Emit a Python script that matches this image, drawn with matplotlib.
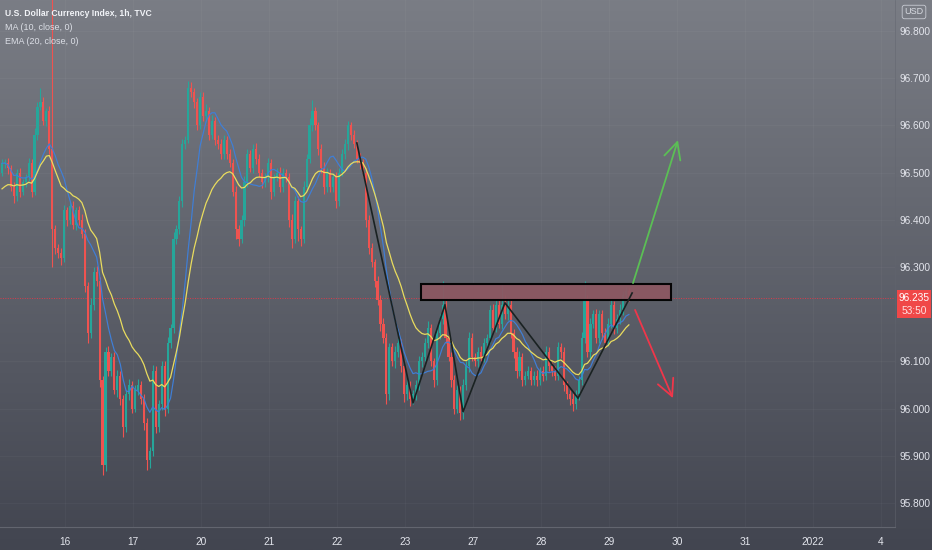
import matplotlib
matplotlib.use('Agg')
import matplotlib.pyplot as plt
import numpy as np
import pandas as pd
from matplotlib.patches import Rectangle
from matplotlib.lines import Line2D

plt.rcParams['font.family'] = ['Liberation Sans Narrow', 'Liberation Sans', 'DejaVu Sans']

# ---------------- data ----------------
first_open = 96.50
closes = [
    96.52, 96.52, 96.51, 96.47, 96.45, 96.50, 96.46, 96.48, 96.49, 96.52,
    96.46, 96.58, 96.64, 96.65, 96.61, 96.63, 96.55, 96.38, 96.34, 96.33,
    96.32, 96.42, 96.40, 96.43, 96.39, 96.42, 96.40, 96.37, 96.26, 96.16,
    96.22, 96.29, 96.27, 96.06, 95.88, 96.12, 96.08, 96.11, 96.04, 96.07,
    96.02, 95.96, 96.03, 96.05, 96.00, 96.04, 96.05, 96.02, 95.97, 95.89,
    95.91, 96.08, 95.96, 96.01, 96.09, 96.00, 96.14, 96.17, 96.36, 96.38,
    96.44, 96.56, 96.57, 96.68, 96.67, 96.65, 96.60, 96.66, 96.62, 96.63,
    96.58, 96.61, 96.57, 96.56, 96.54, 96.57, 96.54, 96.52, 96.46, 96.38,
    96.36, 96.40, 96.48, 96.54, 96.51, 96.55, 96.53, 96.50, 96.48, 96.49,
    96.52, 96.46, 96.49, 96.50, 96.47, 96.50, 96.49, 96.40, 96.36, 96.44,
    96.38, 96.36, 96.47, 96.53, 96.60, 96.63, 96.60, 96.55, 96.51, 96.47,
    96.50, 96.47, 96.49, 96.44, 96.50, 96.54, 96.56, 96.60, 96.58, 96.56,
    96.53, 96.52, 96.50, 96.40, 96.34, 96.31, 96.27, 96.23, 96.18, 96.15,
    96.03, 96.13, 96.10, 96.12, 96.14, 96.09, 96.03, 96.05, 96.02, 96.03,
    96.05, 96.10, 96.11, 96.14, 96.17, 96.10, 96.06, 96.16, 96.19, 96.22,
    96.15, 96.11, 96.06, 96.00, 96.04, 95.99, 96.05, 96.09, 96.15, 96.11,
    96.10, 96.12, 96.11, 96.14, 96.15, 96.21, 96.17, 96.22, 96.18, 96.22,
    96.20, 96.22, 96.16, 96.12, 96.08, 96.11, 96.06, 96.07, 96.08, 96.06,
    96.07, 96.06, 96.08, 96.07, 96.12, 96.09, 96.08, 96.07, 96.13, 96.12,
    96.05, 96.03, 96.02, 96.01, 96.03, 96.06, 96.15, 96.23, 96.12, 96.18,
    96.20, 96.15, 96.20, 96.16, 96.14, 96.18, 96.22, 96.17, 96.19, 96.21,
    96.24, 96.25, 96.235,
]
# upper / lower wick lengths in thousandths of a point
wick_up = [
    10, 8, 12, 6, 10, 8, 10, 6, 8, 12,
    8, 15, 10, 30, 10, 8, 12, 330, 10, 8,
    10, 12, 8, 10, 10, 8, 10, 12, 10, 8,
    15, 10, 12, 8, 10, 10, 12, 8, 10, 12,
    10, 8, 10, 12, 8, 10, 12, 8, 10, 10,
    8, 12, 10, 8, 10, 10, 12, 10, 15, 10,
    10, 12, 8, 15, 12, 10, 8, 12, 10, 15,
    10, 12, 8, 10, 12, 10, 8, 10, 10, 12,
    10, 10, 12, 10, 8, 10, 12, 10, 8, 10,
    12, 10, 8, 10, 12, 10, 8, 10, 12, 10,
    10, 8, 12, 10, 15, 25, 10, 8, 10, 12,
    10, 8, 10, 12, 10, 10, 12, 10, 8, 10,
    10, 12, 8, 10, 10, 12, 8, 10, 10, 12,
    10, 8, 10, 12, 10, 8, 10, 12, 8, 10,
    10, 12, 10, 10, 15, 10, 8, 12, 10, 50,
    10, 8, 10, 12, 10, 8, 12, 10, 12, 10,
    8, 10, 12, 10, 8, 10, 12, 10, 10, 45,
    20, 12, 10, 8, 10, 12, 8, 10, 10, 8,
    10, 12, 8, 10, 12, 10, 8, 10, 12, 10,
    10, 8, 10, 12, 10, 10, 12, 40, 10, 12,
    10, 12, 10, 8, 10, 12, 10, 8, 10, 12,
    10, 8, 5,
]
wick_dn = [
    8, 10, 12, 8, 15, 10, 12, 8, 10, 8,
    12, 8, 10, 8, 10, 12, 10, 80, 12, 10,
    15, 10, 12, 8, 10, 12, 10, 8, 12, 20,
    10, 12, 10, 15, 20, 12, 10, 12, 10, 15,
    12, 20, 10, 12, 10, 8, 12, 10, 15, 20,
    15, 10, 12, 10, 12, 15, 10, 12, 10, 12,
    10, 12, 10, 8, 10, 12, 10, 8, 10, 12,
    10, 8, 12, 10, 10, 12, 10, 8, 10, 20,
    15, 10, 12, 10, 8, 10, 12, 10, 12, 10,
    10, 15, 10, 8, 12, 10, 10, 15, 20, 10,
    25, 15, 10, 8, 10, 12, 10, 12, 10, 15,
    10, 12, 10, 15, 10, 8, 10, 12, 10, 8,
    10, 12, 10, 15, 12, 10, 12, 10, 15, 12,
    20, 12, 10, 15, 10, 12, 15, 12, 15, 10,
    12, 10, 12, 10, 12, 10, 15, 10, 12, 10,
    12, 10, 15, 12, 10, 15, 12, 10, 12, 10,
    10, 12, 10, 12, 10, 12, 10, 8, 10, 12,
    10, 12, 10, 12, 15, 10, 12, 10, 8, 10,
    10, 12, 10, 12, 10, 10, 12, 10, 10, 12,
    12, 10, 12, 15, 10, 12, 10, 12, 10, 12,
    10, 12, 10, 12, 10, 8, 10, 12, 10, 10,
    12, 10, 8,
]
ema_start = 96.46          # EMA level at the left edge of the chart
last_price = 96.235
countdown = "53:50"
price_ticks = [96.8, 96.7, 96.6, 96.5, 96.4, 96.3, 96.1, 96.0, 95.9, 95.8]
date_labels = ["16", "17", "20", "21", "22", "23", "27", "28", "29", "30", "31", "2022", "4"]
bars_per_day = 23
first_day_bar = 21.3

# drawings (bar index, price)
zone_x = (141.7, 226.2)
zone_y = (96.230, 96.264)
zig_x = [120.0, 139.0, 149.8, 155.9, 170.1, 194.8, 213.1]
zig_y = [96.563, 96.012, 96.22, 95.993, 96.224, 96.022, 96.245]
up_arrow = ((213.4, 96.266), (228.6, 96.569))
down_arrow = ((214.1, 96.209), (226.9, 96.022))

# ---------------- figure ----------------
W, H = 932, 550
fig = plt.figure(figsize=(W / 100, H / 100), dpi=100)

bg = fig.add_axes([0, 0, 1, 1], zorder=-10)
top = np.array([122, 125, 133]) / 255
bot = np.array([66, 69, 80]) / 255
t = np.linspace(0, 1, 256)[:, None]
grad = top * (1 - t) + bot * t
bg.imshow(grad[:, None, :], aspect='auto', extent=[0, 1, 0, 1], origin='upper')
bg.axis('off')

ax = fig.add_axes([0, 23 / H, 895 / W, 527 / H])
ax.patch.set_alpha(0)
for s in ax.spines.values():
    s.set_visible(False)

n = len(closes)
x = np.arange(n)
c = np.array(closes)
o = np.array([first_open] + closes[:-1])
hi = np.maximum(o, c) + np.array(wick_up) / 1000
lo = np.minimum(o, c) - np.array(wick_dn) / 1000
up = c >= o
col = np.where(up, '#26a69a', '#ef5350')

ax.vlines(x, lo, hi, colors=col, lw=0.8, zorder=3)
ax.bar(x, np.maximum(np.abs(c - o), 0.003), bottom=np.minimum(o, c), width=0.72,
       color=col, linewidth=0, zorder=3)

s = pd.Series(closes)
ma = s.rolling(10, min_periods=1).mean()
alpha = 2 / 21
ema = []
e = ema_start
for v in closes:
    e = e + alpha * (v - e)
    ema.append(e)
ax.plot(x, ma, color='#3f7fd8', lw=0.85, zorder=4)
ax.plot(x, ema, color='#e9dc5e', lw=0.9, zorder=4)

ax.axhline(last_price, color='#f23645', lw=0.7, ls=(0, (1, 1.5)), alpha=0.85, zorder=2)

ax.add_patch(Rectangle((zone_x[0], zone_y[0]), zone_x[1] - zone_x[0], zone_y[1] - zone_y[0],
                       facecolor='#8c5862', edgecolor='black', lw=1.5, alpha=0.95, zorder=5))
ax.plot(zig_x, zig_y, color='#1a2222', lw=1.2, zorder=6)

ax.annotate('', xy=up_arrow[1], xytext=up_arrow[0],
            arrowprops=dict(arrowstyle='->,head_length=1.2,head_width=0.6', color='#5bbf55',
                            lw=1.3, shrinkA=0, shrinkB=0, mutation_scale=10), zorder=7)
ax.annotate('', xy=down_arrow[1], xytext=down_arrow[0],
            arrowprops=dict(arrowstyle='->,head_length=1.2,head_width=0.6', color='#f0364a',
                            lw=1.3, shrinkA=0, shrinkB=0, mutation_scale=10), zorder=7)

ax.set_xlim(-0.68, 302.0)
ax.set_ylim(95.749, 96.866)

ax.yaxis.tick_right()
ax.set_yticks(price_ticks)
ax.set_yticklabels([f"{p:.3f}" for p in price_ticks])
ax.tick_params(axis='y', length=0, pad=3, labelsize=7.3, labelcolor='#e3e5ec')
xt = [first_day_bar + bars_per_day * k for k in range(len(date_labels))]
ax.set_xticks(xt)
ax.set_xticklabels(date_labels)
ax.tick_params(axis='x', length=0, pad=7, labelsize=7.3, labelcolor='#e3e5ec')
ax.grid(True, color='white', alpha=0.03, lw=0.8)

# separators
fig.add_artist(Line2D([0, 895 / W], [23 / H, 23 / H], transform=fig.transFigure, color='#62656f', lw=0.8))
fig.add_artist(Line2D([895 / W, 895 / W], [23 / H, 1], transform=fig.transFigure, color='#62656f', lw=0.5, alpha=0.7))

# last price label
fig.add_artist(Rectangle((897 / W, 1 - 318 / H), 34 / W, 28 / H, transform=fig.transFigure,
                         facecolor='#f04848', edgecolor='none', zorder=5))
fig.text(914 / W, 1 - 298 / H, f"{last_price:.3f}", fontsize=7.3, color='white',
         ha='center', va='center', zorder=6)
fig.text(914 / W, 1 - 311 / H, countdown, fontsize=7.3, color='#ffe2e2',
         ha='center', va='center', zorder=6)

fig.text(914 / W, 1 - 12 / H, 'USD', fontsize=6.5, ha='center', va='center', color='#d8dbe2',
         bbox=dict(boxstyle='round,pad=0.25', fc='none', ec='#c8cbd3', lw=0.6))

fig.text(5 / W, 1 - 14 / H, 'U.S. Dollar Currency Index, 1h, TVC', fontsize=6.2, fontweight='bold',
         color='#f2f4f8', va='center')
fig.text(5 / W, 1 - 28 / H, 'MA (10, close, 0)', fontsize=6.5, color='#dcdfe6', va='center')
fig.text(5 / W, 1 - 42 / H, 'EMA (20, close, 0)', fontsize=6.5, color='#dcdfe6', va='center')

fig.savefig('out.png', dpi=100)
